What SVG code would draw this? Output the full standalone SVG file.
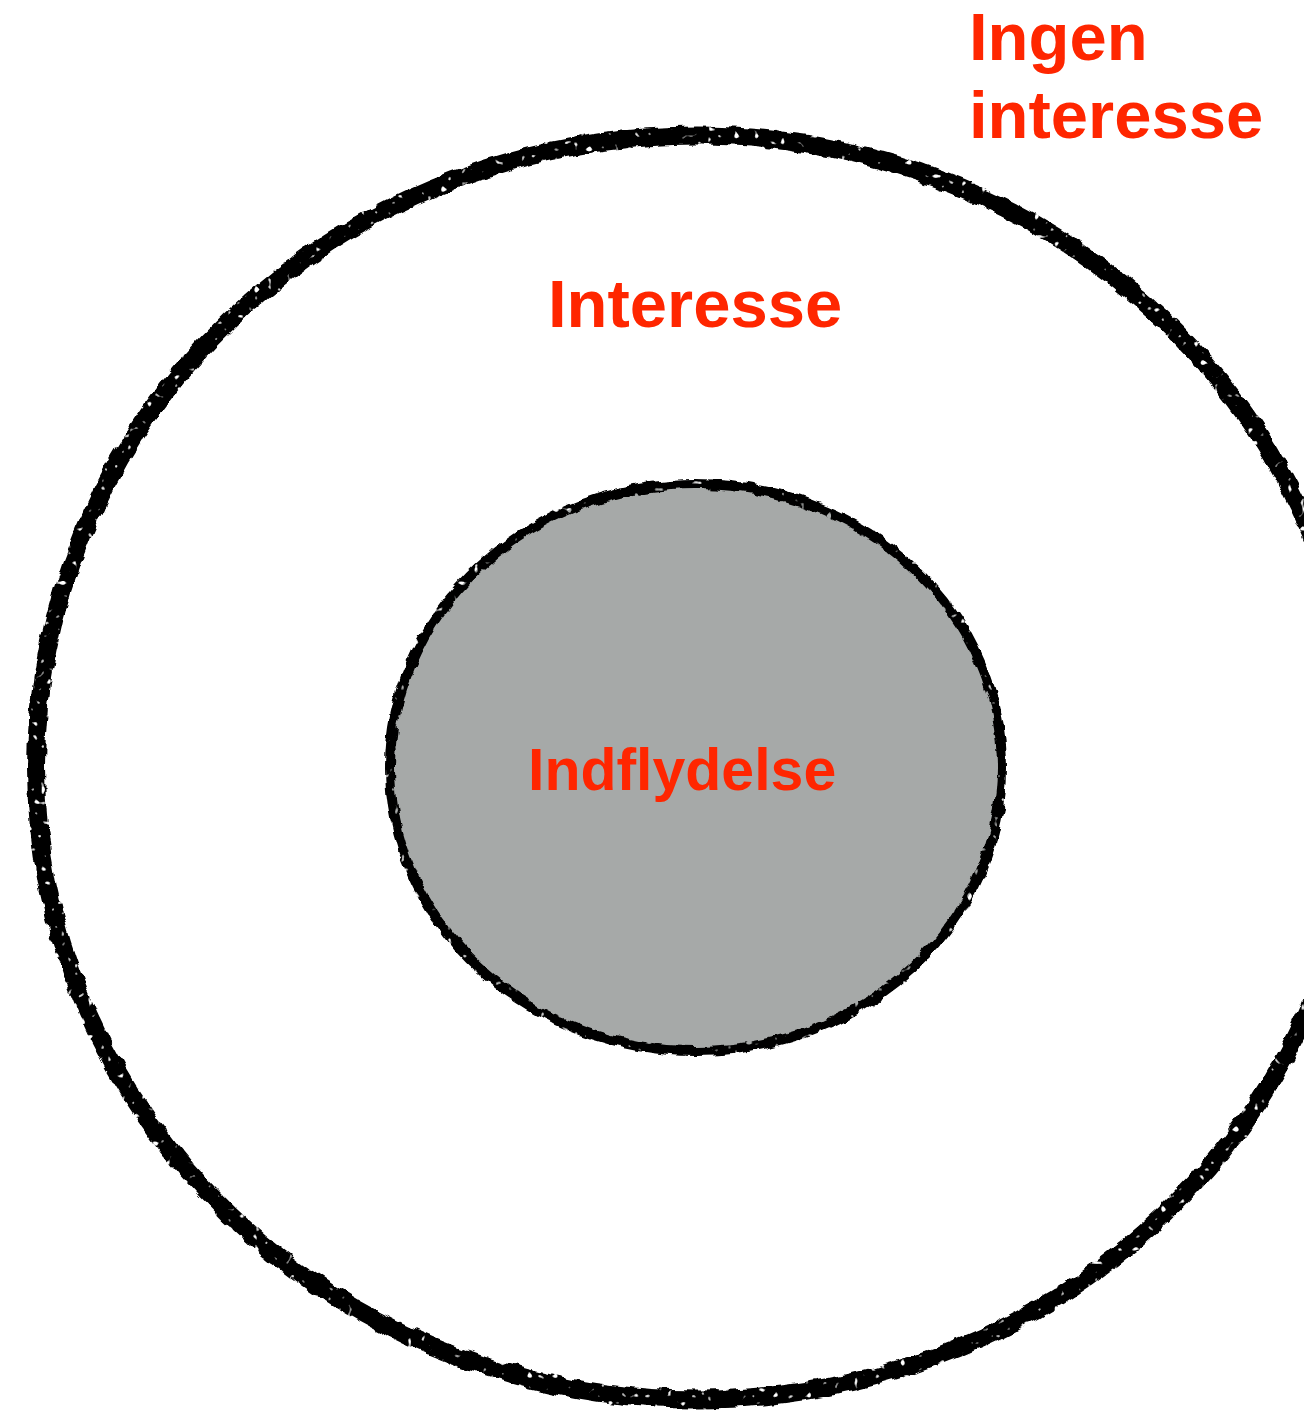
<svg xmlns="http://www.w3.org/2000/svg" width="1304" height="1416" viewBox="0 0 1304 1416">
  <defs>
    <filter id="rough" filterUnits="userSpaceOnUse" x="0" y="0" width="1304" height="1416">
      <feTurbulence type="fractalNoise" baseFrequency="0.07" numOctaves="2" seed="3" result="noise"/>
      <feDisplacementMap in="SourceGraphic" in2="noise" scale="8" xChannelSelector="R" yChannelSelector="G" result="disp"/>
      <feTurbulence type="fractalNoise" baseFrequency="0.15" numOctaves="1" seed="7" result="speck"/>
      <feColorMatrix in="speck" type="matrix" values="0 0 0 0 0  0 0 0 0 0  0 0 0 0 0  0 0 0 -12 9" result="mask"/>
      <feComposite in="disp" in2="mask" operator="in"/>
    </filter>
  </defs>
  <style>
    .ring { fill: none; stroke: #000000; }
    .lbl { font-family: "Liberation Sans", Arial, Helvetica, sans-serif; font-weight: bold; fill: #ff2600; }
  </style>
  <rect x="0" y="0" width="1304" height="1416" fill="#ffffff"/>
  <g id="outer">
    <ellipse class="ring" cx="697" cy="767.5" rx="661" ry="632" stroke-width="18" filter="url(#rough)"/>
  </g>
  <g id="inner">
    <ellipse cx="696" cy="767.5" rx="306" ry="283.5" fill="#a6a9a8"/>
    <ellipse class="ring" cx="696" cy="767.5" rx="306" ry="283.5" stroke-width="10" filter="url(#rough)"/>
  </g>
  <g id="connectors"></g>
  <g id="label-ingen">
    <text class="lbl" x="969" y="60" font-size="67">Ingen</text>
    <text class="lbl" x="969" y="138" font-size="67">interesse</text>
  </g>
  <g id="label-interesse">
    <text class="lbl" x="548" y="327" font-size="67">Interesse</text>
  </g>
  <g id="label-indflydelse">
    <text class="lbl" x="528" y="790" font-size="59">Indflydelse</text>
  </g>
</svg>
